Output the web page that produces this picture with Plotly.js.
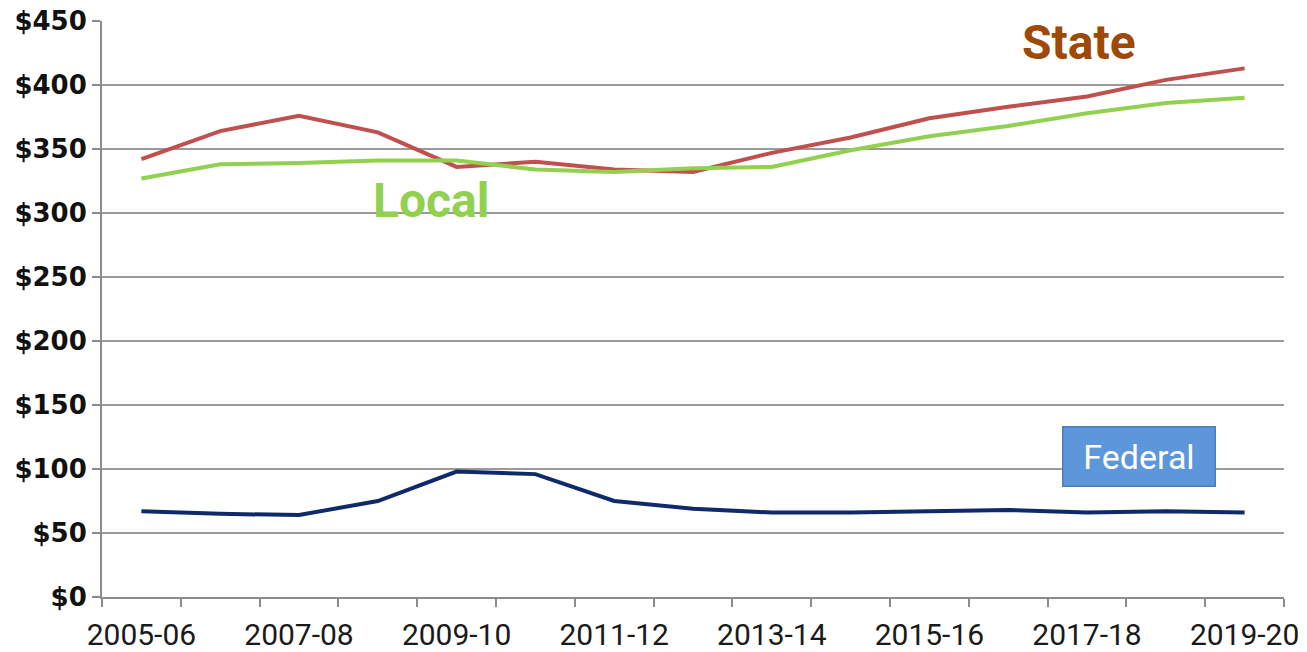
<!DOCTYPE html>
<html>
<head>
<meta charset="utf-8">
<script src="https://cdn.plot.ly/plotly-3.0.1.min.js"></script>
<style>
html,body{margin:0;padding:0;background:#fff;}
#chart{width:1307px;height:652px;}
</style>
</head>
<body>
<div id="chart"></div>
<script>
// Data
const years = ["2005-06","2006-07","2007-08","2008-09","2009-10","2010-11","2011-12","2012-13",
               "2013-14","2014-15","2015-16","2016-17","2017-18","2018-19","2019-20"];
const stateVals   = [342, 364, 376, 363, 336, 340, 334, 332, 347, 359, 374, 383, 391, 404, 413];
const localVals   = [327, 338, 339, 341, 341, 334, 332, 335, 336, 349, 360, 368, 378, 386, 390];
const federalVals = [67, 65, 64, 75, 98, 96, 75, 69, 66, 66, 67, 68, 66, 67, 66];
const yTickVals = [0, 50, 100, 150, 200, 250, 300, 350, 400, 450];
const yTickText = yTickVals.map(v => "$" + v);

const xIdx = years.map((_, i) => i);
const labelIdx = xIdx.filter(i => i % 2 === 0);
const labelText = labelIdx.map(i => years[i]);

const traces = [
  {x: xIdx, y: stateVals, name: "State", mode: "lines",
   line: {color: "#C0504D", width: 4}},
  {x: xIdx, y: localVals, name: "Local", mode: "lines",
   line: {color: "#92D050", width: 4}},
  {x: xIdx, y: federalVals, name: "Federal", mode: "lines",
   line: {color: "#0F2A6B", width: 4}}
];

const layout = {
  width: 1307, height: 652,
  margin: {l: 102, r: 23, t: 21, b: 55},
  paper_bgcolor: "#ffffff", plot_bgcolor: "#ffffff",
  showlegend: false,
  xaxis: {
    type: "linear", range: [-0.5, 14.5],
    tickmode: "array", tickvals: labelIdx, ticktext: labelText,
    ticks: "", showgrid: false, zeroline: false,
    ticklabelstandoff: 10,
    showline: true, linecolor: "#8c8c8c", linewidth: 2,
    tickfont: {family: "Roboto, sans-serif", size: 30, color: "#1a1a1a"},
    minor: {tickmode: "linear", tick0: -0.5, dtick: 1, ticks: "outside",
            ticklen: 8, tickwidth: 2, tickcolor: "#8c8c8c", showgrid: false},
    fixedrange: true
  },
  yaxis: {
    range: [0, 450], tickmode: "array", tickvals: yTickVals, ticktext: yTickText,
    ticks: "outside", ticklen: 8, tickwidth: 2, tickcolor: "#8c8c8c",
    showgrid: true, gridcolor: "#9a9a9a", gridwidth: 2,
    zeroline: false, showline: true, linecolor: "#8c8c8c", linewidth: 2,
    tickfont: {family: "DejaVu Sans, sans-serif", size: 26, color: "#111", weight: "bold"},
    fixedrange: true
  },
  annotations: [
    {x: 11.9, y: 433, xref: "x", yref: "y", text: "State", showarrow: false,
     font: {family: "Roboto, sans-serif", size: 48, color: "#9E4A06", weight: "bold"}},
    {x: 3.68, y: 310, xref: "x", yref: "y", text: "Local", showarrow: false,
     font: {family: "Roboto, sans-serif", size: 48, color: "#92D050", weight: "bold"}},
    {x: 12.66, y: 110, xref: "x", yref: "y", text: "Federal", showarrow: false,
     width: 151, height: 58, borderpad: 0, bgcolor: "#5E96DC", bordercolor: "#4A7EBB", borderwidth: 1.5,
     font: {family: "Roboto, sans-serif", size: 34, color: "#ffffff"}}
  ]
};

Plotly.newPlot("chart", traces, layout, {displayModeBar: false, staticPlot: true});
</script>
</body>
</html>
